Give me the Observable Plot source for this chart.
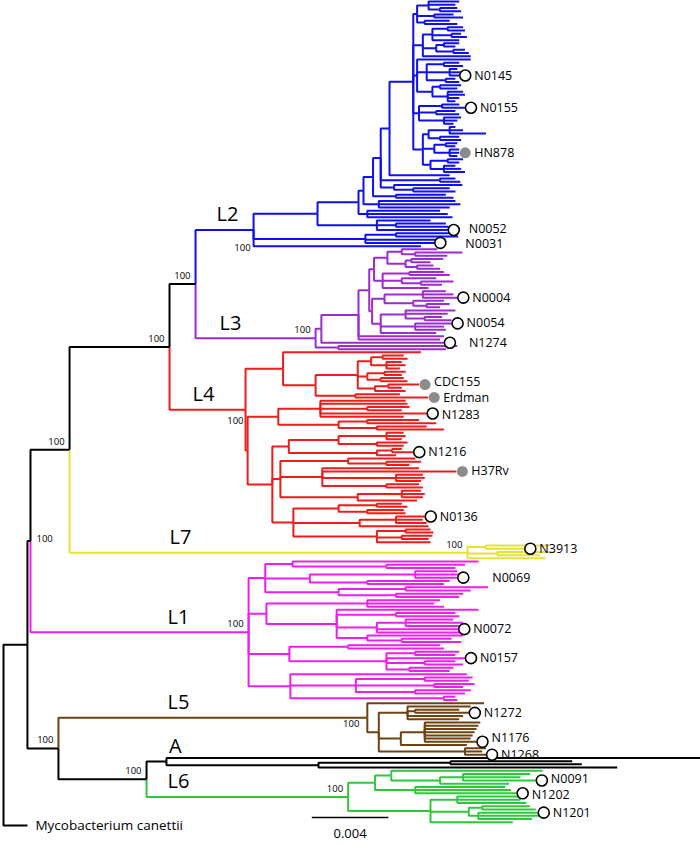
<!DOCTYPE html>
<html><head><meta charset="utf-8">
<script src="https://cdn.jsdelivr.net/npm/d3@7"></script>
<script src="https://cdn.jsdelivr.net/npm/@observablehq/plot@0.6"></script>
<style>body{margin:0;background:#fff} svg{display:block}</style>
</head><body><div id="chart"></div>
<script>
// ---------------- DATA ----------------
// Newick-like subtrees. Number after ":" = node depth from root, in units of 1e-4 substitutions/site.
// ---- L2
const L2_s1 = "((:238,:236,(:237,:239):228):222,(:235,:240):225,(:233,:237):220):216";
const L2_s2 = "(((:240,:241):232,(:239,:242):234,:238):224,((:238,:236):230,(:241,:243):235):226,:244):219";
const L2_s3 = "(:244,((:238,:240):230,(:237,:239,N0145:238):233,(:236,:238):231):221,((:239,:237):228,(:240,:241,:238,:236):232):224):216";
const L2_s4 = "((:238,N0155:241):229,(:236,:238):226,(:239,:237,:235):230):217";
const L2_s5 = "(((:236,:240,:252):233,(:238,:239):228):222,((:237,:236):231,(:238,HN878:238,:237):233):225,((:240,:238):232,(:236,:239,:241):230):223):219";
const L2_beijing = `((${L2_s1},${L2_s2},${L2_s3},${L2_s4},${L2_s5}):214,:233):201.6`;
const L2_x3 = `(${L2_beijing},(:236,:238.6):228,(:239.6,(:233,:236):214):204):197`;
const L2_x2 = `(${L2_x3},(:231,:235):205):193`;
const L2_x1 = `(${L2_x2},(:236,:238.6,:233):196):188`;
const L2_b = `(${L2_x1},(:228,:232,:234.5):190):185.4`;
const L2_a = `(${L2_b},(:223,(:231,:232.5):205,N0052:232):195):164`;
const treeL2 = `(${L2_a},((:236,:237.5):205,:231,N0031:225):189,:218)L2:130.6`;
// ---- L3
const L3_q1 = "((:226.5,(:239.6,:231.8):215):208,((:229.7,:223):213,(:224.5,:228):216):210):200.5";
const L3_q2 = "((:230,:233):212,(:226,(:235,:229):218):208,:222):198";
const L3_q3 = "((:231,:235,N0004:237):219,(:230,(:233,:228):221):214):199";
const L3_q4 = "((:236,:232,(:229,:234):220):210,(N0054:234,:230,:231):215,:226):197";
const L3_m = `(((${L3_q1},${L3_q2}):193.5,(${L3_q3},${L3_q4}):192.5):191,:230,:228):185.4`;
const treeL3 = `((${L3_m},N1274:230):166,(:237,:231):175)L3:163`;
// ---- L4
const L4_t3 = "(((:209,:211):198,(:208,:210,:207):200):192,((:210,:208):199,(:209,:211):197):190,((CDC155:217,:208):201,:210):194):185";
const L4_top = `(:218,(${L4_t3},(:207,Erdman:221.8):183.8):163):146`;
const L4_mid = "((:210,:211,(:212,:208):190,N1283:221,:209):165.5,((:217,:226):190,(:221,:230):195):175):143.5";
const L4_b1 = "(((:209,:210,:208):200,(:211,:209):195):175,((:208,N1216:214):203,:205):195):149";
const L4_b2 = "((:215,(:218,:212):200):180,(:217,H37Rv:236.5,(:219,:220,:218):205,(:217,:219):200):166.5,((:218,:220,:219):208,:216):185):144.6";
const L4_b3 = "(((:208,:211):195,(:209,:210):190):175,((N0136:220,:219,:221):205,:222):186,((:223,:224.5):210,(:224,:222):208,:223):195):151.4";
const treeL4 = `(${L4_top},(${L4_mid},(${L4_b1},${L4_b2},${L4_b3}):140.4):127.5)L4:126.4`;
// ---- L7
const treeL7 = "((:285,N3913:272):252,(:288,:280):258,:283)L7:242.3";
// ---- L1
const L1_a = "((:248,(:241,:236):200):151,((:237,:240,N0069:237):215,(:233,:230):190):160,((:253,:244):210,(:240,:238):205):175):136.7";
const L1_b = "((:228,:225,:230):190,(:248,(:236,:238):205,((:235,:240,:239):210,N0072:237.5,:241):195,(:240,(:234,:239):208):190):174):137.3";
const L1_c = "((:228,:230):180,((:238,:236):215,N0157:241,(:236,:240):220,(:235,:233):212):200):149.3";
const L1_d = "(:242,((:245,:243):220,(:246,:240):225,(:244,:241):215):184,(:236,:237):230):149.8";
const treeL1 = `(${L1_a},${L1_b},${L1_c},${L1_d})L1:128`;
// ---- L5, A, L6
const treeL5 = "(:251,((:244,(:238,N1272:243):215,:240,:238):211,((:249,:248,:247,:246,:245,:244,N1176:247):220,:242):207.5,(:252,:250,N1268:252):241):196)L5:190";
const treeA = "(:364,((:297,:302):233.5,:320.5):164.5)A:85.1";
const treeL6 = "(((:281.5,((:275,:270,N0091:278):240,:264):228):202.5,(:262,:265,N1202:268):215):194,((:272,:270,:273):237,((:275,:278):250,(N1201:279,:280,:276):248):243,:266):223)L6:180";
// ---- backbone
const backbone = "(((((({L2},{L3})N4:100.3,{L4})N3:86.7,{L7})N2:34.5,{L1})N1:14.1,({L5},({A},{L6})AL6:74.7)Animal:28.7)MTBC:12.5,Mycobacterium_canettii:12.5)root:0";

const lineageNames = ["L2", "L3", "L4", "L7", "L1", "L5", "A", "L6"];
const lineageColors = ["#1010ee", "#9b2ccf", "#ee1c1c", "#e8e236", "#ee1eee", "#6f4211", "#000000", "#2fc83c"];
const lineageLabelDepth = [117, 118.5, 104.4, 92.4, 91.4, 91.4, 89.8, 91.4];
const openCircleStrains = ["N0145","N0155","N0052","N0031","N0004","N0054","N1274","N1283","N1216","N0136","N3913","N0069","N0072","N0157","N1272","N1176","N1268","N0091","N1202","N1201"];
const referenceStrains = ["HN878", "CDC155", "Erdman", "H37Rv"];
const supportNodes = ["N1","N2","N3","N4","L2","L3","L4","L7","L1","L5","Animal","AL6","L6"];
const supportValue = "100";
const depthUnit = 1e-4;
const scaleBarLength = 0.004;
const scaleBarStart = 0.0161;

// ---------------- BUILD ----------------
const subtrees = {L2: treeL2, L3: treeL3, L4: treeL4, L7: treeL7, L1: treeL1, L5: treeL5, A: treeA, L6: treeL6};
const nwk = backbone.replace(/\{(\w+)\}/g, (m, k) => subtrees[k]);

function parse(s) {
  let i = 0;
  function node() {
    const n = {children: [], name: "", depth: 0};
    if (s[i] === "(") {
      i++;
      n.children.push(node());
      while (s[i] === ",") { i++; n.children.push(node()); }
      i++;
    }
    let name = "";
    while (i < s.length && !",():".includes(s[i])) name += s[i++];
    n.name = name;
    if (s[i] === ":") {
      i++;
      let num = "";
      while (i < s.length && !",()".includes(s[i])) num += s[i++];
      n.depth = +num;
    }
    return n;
  }
  return node();
}
const root = parse(nwk);
const nodes = [];
let leafCount = 0;
function walk(n, parent, lineage) {
  if (lineageNames.includes(n.name)) lineage = n.name;
  n.parent = parent; n.lineage = lineage || "backbone"; n.x = n.depth * depthUnit;
  if (!n.children.length) n.y = leafCount++;
  else {
    for (const c of n.children) walk(c, n, lineage);
    n.y = (n.children[0].y + n.children[n.children.length - 1].y) / 2;
  }
  nodes.push(n);
}
walk(root, null, null);

const branches = nodes.filter(n => n.parent).map(n => ({x1: n.parent.x, y1: n.parent.y, x2: n.x, y2: n.y, lineage: n.lineage}));
const leaves = nodes.filter(n => !n.children.length);
const openLeaves = leaves.filter(n => openCircleStrains.includes(n.name));
const refLeaves = leaves.filter(n => referenceStrains.includes(n.name));
const outgroup = leaves.filter(n => n.name.startsWith("Mycobacterium"));
const lineageLabels = lineageNames.map((name, k) => ({name, x: lineageLabelDepth[k] * depthUnit, y: nodes.find(n => n.name === name).y}));
const supports = nodes.filter(n => supportNodes.includes(n.name));

// label placement tweaks (pixels)
const labelNudge = {N0031: [16, 1.5], N0069: [20, 0], N1274: [10, 0], N0052: [6, -1.5], N1176: [0, -4], N1268: [0, 0.5],
  CDC155: [0, -2.5], Erdman: [0, 0.5], N1283: [0, 1], N0091: [0, -1.5], N1202: [0, 1.5]};
const supportPlace = {N1: [6, -2, "start"], L2: [-3, 18, "end"], L4: [-2, 11, "end"], L5: [-8, 6, "end"]};

const labelled = [...openLeaves, ...refLeaves];
const labelFont = 12.5;
const labelMarks = [];
const plain = labelled.filter(d => !labelNudge[d.name]);
labelMarks.push(Plot.text(plain, {x: "x", y: "y", text: "name", dx: 15, textAnchor: "start", fontSize: labelFont}));
for (const d of labelled.filter(d => labelNudge[d.name])) {
  const [ddx, ddy] = labelNudge[d.name];
  labelMarks.push(Plot.text([d], {x: "x", y: "y", text: "name", dx: 15 + ddx, dy: ddy, textAnchor: "start", fontSize: labelFont}));
}
const supportMarks = [];
supportMarks.push(Plot.text(supports.filter(d => !supportPlace[d.name]), {x: "x", y: "y", text: () => supportValue, dx: -5, dy: -8, textAnchor: "end", fontSize: 9.5}));
for (const d of supports.filter(d => supportPlace[d.name])) {
  const [ddx, ddy, anchor] = supportPlace[d.name];
  supportMarks.push(Plot.text([d], {x: "x", y: "y", text: () => supportValue, dx: ddx, dy: ddy, textAnchor: anchor, fontSize: 9.5}));
}

const chart = Plot.plot({
  width: 700, height: 845,
  margin: 0,
  style: {fontFamily: "'Open Sans', sans-serif", background: "white", overflow: "visible"},
  x: {domain: [0, 0.0364], range: [3, 700], axis: null},
  y: {domain: [0, leafCount - 1], range: [1, 825], axis: null},
  color: {domain: [...lineageNames, "backbone"], range: [...lineageColors, "#000000"]},
  marks: [
    Plot.link(branches, {x1: "x1", y1: "y1", x2: "x2", y2: "y2", curve: "step-before", stroke: "lineage", strokeWidth: 2}),
    Plot.dot(refLeaves, {x: "x", y: "y", dx: 6, r: 5.5, fill: "#8c8c8c", stroke: "none"}),
    Plot.dot(openLeaves, {x: "x", y: "y", dx: 6, r: 5.5, fill: "white", stroke: "black", strokeWidth: 1.6}),
    ...labelMarks,
    ...supportMarks,
    Plot.text(lineageLabels, {x: "x", y: "y", text: "name", dy: -15, fontSize: 20}),
    Plot.text(outgroup, {x: "x", y: "y", text: d => d.name.replace("_", " "), dx: 8, textAnchor: "start", fontSize: 13.5}),
    Plot.link([{x1: scaleBarStart, x2: scaleBarStart + scaleBarLength}], {x1: "x1", x2: "x2", y1: () => leafCount - 3.5, y2: () => leafCount - 3.5, stroke: "black", strokeWidth: 1.6}),
    Plot.text([{x: scaleBarStart + scaleBarLength / 2}], {x: "x", y: () => leafCount + 1.5, text: () => String(scaleBarLength), fontSize: 13})
  ]
});
document.getElementById("chart").append(chart);
</script></body></html>
